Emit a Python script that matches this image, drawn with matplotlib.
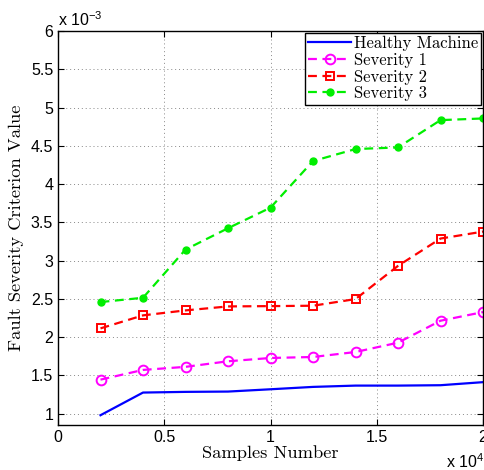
import matplotlib
matplotlib.use("Agg")
import matplotlib.pyplot as plt
import numpy as np

samples = [2000, 4000, 6000, 8000, 10000, 12000, 14000, 16000, 18000, 20000]
healthy = [0.978, 1.274, 1.283, 1.287, 1.317, 1.348, 1.365, 1.365, 1.370, 1.410]
severity1 = [1.443, 1.570, 1.610, 1.683, 1.726, 1.739, 1.804, 1.926, 2.213, 2.326]
severity2 = [2.113, 2.283, 2.348, 2.400, 2.404, 2.409, 2.496, 2.930, 3.287, 3.378]
severity3 = [2.457, 2.513, 3.143, 3.422, 3.691, 4.300, 4.457, 4.478, 4.835, 4.857]
labels = ["Healthy Machine", "Severity 1", "Severity 2", "Severity 3"]
xticks = [0, 0.5, 1, 1.5, 2]
yticks = [1, 1.5, 2, 2.5, 3, 3.5, 4, 4.5, 5, 5.5, 6]

serif = ["cmr10", "DejaVu Serif"]
sans = "Liberation Sans"

fig = plt.figure(figsize=(4.84, 4.70), dpi=100)
ax = fig.add_axes([58/484, 45/470, 425/484, 394/470])

xs = np.array(samples) / 1e4
ax.plot(xs, healthy, color="#0000ff", lw=1.6, label=labels[0])
ax.plot(xs, severity1, color="#ff00ff", lw=1.6, ls=(0, (4, 2.5)), marker="o",
        ms=7, mfc="none", mew=1.4, label=labels[1])
ax.plot(xs, severity2, color="#ff0000", lw=1.6, ls=(0, (4, 2.5)), marker="s",
        ms=5.5, mfc="none", mew=1.4, label=labels[2])
ax.plot(xs, severity3, color="#00ee00", lw=1.6, ls=(0, (4, 2.5)), marker="o",
        ms=5, mfc="#00ee00", mec="#00ee00", label=labels[3])

ax.set_xlim(0, 2)
ax.set_ylim(0.85, 6)
ax.set_xticks(xticks)
ax.set_xticklabels([f"{t:g}" for t in xticks], fontfamily=sans, fontsize=11.5)
ax.set_yticks(yticks)
ax.set_yticklabels([f"{t:g}" for t in yticks], fontfamily=sans, fontsize=11.5)
ax.tick_params(direction="in", top=True, right=True, length=4, width=0.8)
ax.grid(True, ls=(0, (1, 3)), color="#888888", lw=0.7)
for s in ax.spines.values():
    s.set_linewidth(1.0)

ax.set_xlabel("Samples Number", fontfamily=serif, fontsize=13.3, labelpad=0)
ax.set_ylabel("Fault Severity Criterion Value", fontfamily=serif, fontsize=13.3, labelpad=5)

fig.text(58/484, 1 - 20/470, r"x 10$^{\mathregular{-3}}$", fontfamily=sans, fontsize=11.5,
         ha="left", va="center")
fig.text(446/484, 1 - 462/470, r"x 10$^{\mathregular{4}}$", fontfamily=sans, fontsize=11.5,
         ha="left", va="center")

leg = ax.legend(loc="upper right", prop={"family": serif, "size": 12},
                fancybox=False, edgecolor="black", framealpha=1,
                borderpad=0.2, labelspacing=0.08, handlelength=2.6,
                handletextpad=0.15, borderaxespad=0.1)
leg.get_frame().set_linewidth(1.0)

fig.savefig("out.png", dpi=100)
